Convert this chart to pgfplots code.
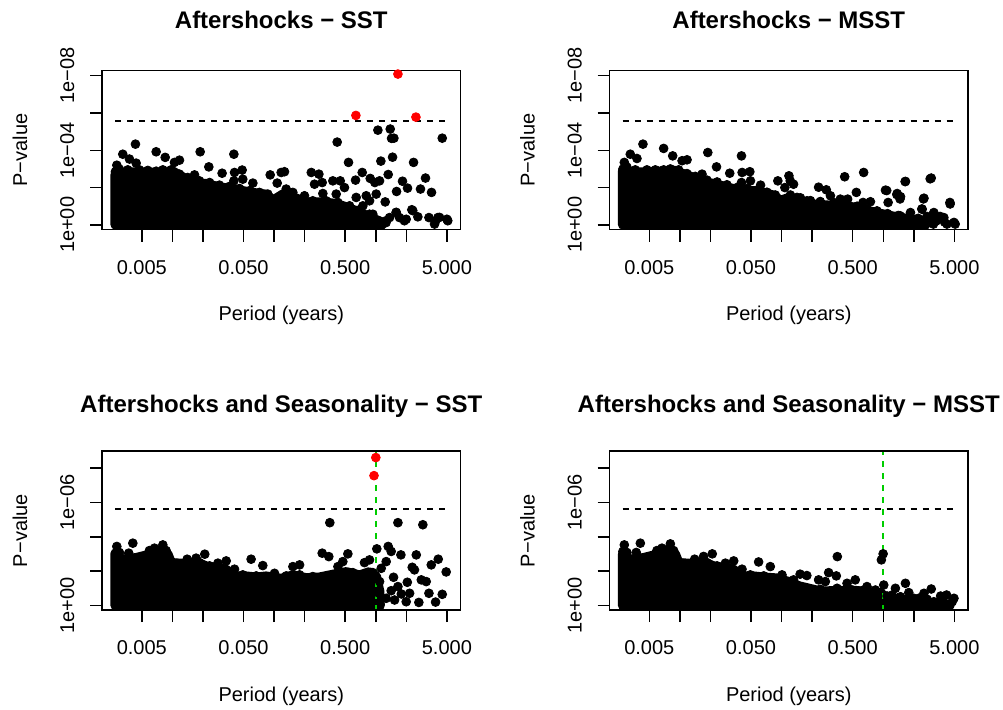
\documentclass[border=0pt]{standalone}
\usepackage{fontspec}
\setmainfont{Liberation Sans}
\usepackage{pgfplots}
\pgfplotsset{compat=1.18}
\definecolor{rgreen}{RGB}{0,205,0}

\pgfplotsset{
  rpanel/.style={
    scale only axis, width=179.3pt, height=79.4pt,
    xmin=0.00203, xmax=6.82,
    axis on top, clip=true,
    axis line style={line width=0.75pt},
    every tick/.style={black, line width=0.75pt},
    tick align=outside, major tick length=6pt,
    xtick pos=left, ytick pos=left, xminorticks=false, yminorticks=false,
    xtick={0.005,0.01,0.02,0.05,0.1,0.2,0.5,1,2,5},
    xticklabels={0.005,,,0.050,,,0.500,,,5.000},
    ytick={0,2,4,6,8},
    tick label style={font=\fontsize{10}{12}\selectfont},
    xticklabel style={anchor=base, yshift=-16.25pt},
    yticklabel style={xshift=-8pt, rotate=90, anchor=base},
    xlabel={Period (years)}, ylabel={P−value},
    label style={font=\fontsize{10}{12}\selectfont},
    xlabel style={at={(axis description cs:0.5,-0.576)}, anchor=base},
    ylabel style={at={(axis description cs:-0.2091,0.5)}, anchor=base},
    title style={at={(axis description cs:0.5,1)}, anchor=base,
      font=\bfseries\fontsize{12}{14.4}\selectfont},
  },
  toprow/.style={title style={yshift=15pt}},
  botrow/.style={title style={yshift=13.5pt}},
  dots/.style={only marks, mark=*, mark size=2.2pt, black, mark options={line width=0.4pt}},
  reddots/.style={only marks, mark=*, mark size=2.2pt, red, mark options={line width=0.4pt}},
  core/.style={fill=black, draw=black, line width=4.8pt, line join=round, line cap=round},
  thr/.style={black, line width=0.75pt, dash pattern=on 3pt off 3pt},
  yr/.style={rgreen, line width=1pt, dash pattern=on 3pt off 3pt},
}

\begin{document}
\begin{tikzpicture}
\path[use as bounding box] (0,0) rectangle (501.5pt,354.5pt);

% ---- top left: Aftershocks - SST
\begin{semilogxaxis}[rpanel, toprow, at={(51pt,239.75pt)}, anchor=south west,
  ymin=-0.25, ymax=8.27, yticklabels={1e+00,,1e−04,,1e−08},
  title={Aftershocks − SST}]
\addplot[core] coordinates {
  (0.00274,0) (0.00274,2.70) (0.00351,2.83) (0.00512,2.83) (0.00867,2.77)
  (0.00972,2.92) (0.01265,2.56) (0.01472,2.29) (0.0215,2.20) (0.0290,2.02)
  (0.0393,1.93) (0.0573,1.75) (0.0836,1.63) (0.0971,1.31) (0.117,1.58)
  (0.1315,1.67) (0.153,1.49) (0.2066,1.22) (0.301,1.22) (0.408,1.13)
  (0.512,0.95) (0.692,0.68) (0.867,0.41) (1.088,0.20) (1.15,0)} --cycle;
% points along the top of the dense band
\addplot[dots] coordinates {
  (0.00301,2.99) (0.00364,2.95) (0.00474,2.95) (0.00573,2.92) (0.00692,2.88)
  (0.00805,2.95) (0.00971,2.95) (0.01173,2.72) (0.01416,2.54) (0.01845,2.36)
  (0.0232,2.27) (0.0290,2.13) (0.0364,2.06) (0.0457,1.95) (0.0573,1.83)
  (0.0718,1.74) (0.0867,1.65) (0.122,1.65) (0.153,1.52) (0.192,1.38)
  (0.240,1.29) (0.325,1.29) (0.424,1.20) (0.552,1.02) (0.692,0.81) (0.867,0.57)};
\addplot[dots] coordinates {
  (0.00433,4.33) (0.00325,3.79) (0.00284,3.20) (0.00275,2.85) (0.00378,3.53)
  (0.00440,3.31) (0.00692,3.92) (0.00849,3.62) (0.01047,3.35) (0.01173,3.47)
  (0.01875,3.92) (0.0228,3.11) (0.0165,2.68) (0.0308,2.77) (0.0402,3.79)
  (0.0408,2.81) (0.0485,2.94) (0.0402,2.36) (0.0492,2.45) (0.0618,2.24)
  (0.0915,2.68) (0.1072,2.24) (0.1173,2.81)
  (0.1265,2.85) (0.232,2.81) (0.2756,2.72) (0.2496,2.18) (0.297,2.27)
  (0.378,2.36) (0.4466,2.36) (0.492,2.00) (0.1528,1.74) (0.1314,1.92)
  (0.3015,1.68) (0.199,1.56) (0.408,1.65) (0.641,1.47) (0.805,1.56)
  (0.868,1.29) (0.746,1.02) (0.573,0.84) (0.457,1.02) (0.935,0.57)
  (0.691,0.48) (1.365,0.39) (1.71,0.39)
  (1.048,5.08) (1.386,5.14) (1.428,4.64) (1.506,4.65) (4.50,4.65)
  (0.417,4.44) (1.461,3.63) (1.121,3.42) (0.539,3.35) (2.35,3.35)
  (0.735,2.81) (1.324,2.70) (0.881,2.49) (0.632,2.40) (1.088,2.36)
  (0.979,2.27) (3.08,2.51) (1.83,2.34) (2.05,1.97) (1.60,1.79)
  (2.75,1.92) (3.53,1.74) (1.009,1.65) (1.237,1.23) (2.26,0.81)
  (1.587,0.66) (2.59,0.43) (3.33,0.39) (4.08,0.39) (5.00,0.30)
  (3.84,0.16) (1.246,0.21) (1.99,0.30) (1.585,0.67) (1.91,0.22)
  (2.31,0.76) (3.78,0.04) (5.10,0.22) (1.26,0.12) (4.23,0.40)};
\addplot[thr] coordinates {(0.00274,5.56) (5.05,5.56)};
\addplot[reddots] coordinates {(1.65,8.09) (0.637,5.87) (2.48,5.78)};
\end{semilogxaxis}

% ---- top right: Aftershocks - MSST
\begin{semilogxaxis}[rpanel, toprow, at={(304.75pt,239.75pt)}, anchor=south west,
  ymin=-0.25, ymax=8.27, yticklabels={1e+00,,1e−04,,1e−08},
  title={Aftershocks − MSST}]
\addplot[core] coordinates {
  (0.00274,0) (0.00274,2.90) (0.00351,2.83) (0.00512,2.83) (0.00867,2.92)
  (0.01265,2.60) (0.01472,2.38) (0.0215,2.20) (0.0290,2.02) (0.0393,1.84)
  (0.0573,1.81) (0.0836,1.58) (0.0971,1.30) (0.117,1.45) (0.1775,1.13)
  (0.302,1.04) (0.512,0.95) (0.805,0.68) (1.368,0.41) (2.32,0.23) (2.6,0)} --cycle;
\addplot[dots] coordinates {
  (0.00301,3.10) (0.00364,2.95) (0.00474,2.95) (0.00573,2.95) (0.00692,2.95)
  (0.00805,3.00) (0.00971,2.95) (0.01173,2.75) (0.01416,2.60) (0.01845,2.40)
  (0.0232,2.30) (0.0290,2.15) (0.0364,2.00) (0.0457,1.95) (0.0573,1.85)
  (0.0718,1.75) (0.0867,1.60) (0.122,1.60) (0.153,1.45) (0.192,1.30)
  (0.240,1.25) (0.325,1.20) (0.424,1.15) (0.552,1.00) (0.692,0.85)
  (0.867,0.75) (1.10,0.60) (1.40,0.50) (1.80,0.40) (2.20,0.35)
  (2.80,0.30) (3.30,0.20) (4.00,0.15)};
\addplot[dots] coordinates {
  (0.00433,4.33) (0.00325,3.79) (0.00378,3.56) (0.00284,3.35) (0.00275,2.99)
  (0.00692,4.10) (0.00849,3.70) (0.0105,3.44) (0.01175,3.49) (0.0188,3.88)
  (0.0229,3.11) (0.0165,2.72) (0.0309,2.77) (0.0403,3.70) (0.0409,2.81)
  (0.0487,2.85) (0.0403,2.27) (0.0494,2.36) (0.0621,2.13) (0.0918,2.36)
  (0.1076,2.00) (0.118,2.63)
  (0.417,2.58) (0.641,2.81) (0.231,2.02) (0.275,1.88) (0.302,1.56)
  (0.378,1.38) (0.446,1.38) (0.543,1.74) (1.050,1.86) (1.652,2.33)
  (2.96,2.51) (1.368,1.68) (1.476,1.51) (2.51,1.43) (4.52,1.20)
  (0.747,1.24) (0.632,1.20) (1.115,1.20) (2.41,0.84) (1.85,0.66)
  (3.14,0.66) (3.94,0.39) (4.95,0.13) (1.53,0.39) (0.1216,2.36)
  (0.131,2.18) (0.1416,1.47) (0.1775,1.29)
  (1.46,0.49) (1.835,0.40) (2.68,0.45) (3.11,0.04) (4.22,0.04)
  (5.09,0.04) (3.11,0.58) (3.62,0.45) (1.58,0.04) (1.98,0.04)
  (1.21,0.04) (2.39,0.85) (2.48,1.39) (1.08,1.84) (1.36,1.62)
  (1.46,1.39) (1.64,2.32) (2.89,2.47) (4.54,1.12)};
\addplot[thr] coordinates {(0.00274,5.56) (5.05,5.56)};
\end{semilogxaxis}

% ---- bottom left: Aftershocks and Seasonality - SST
\begin{semilogxaxis}[rpanel, botrow, at={(51pt,49.5pt)}, anchor=south west,
  ymin=-0.25, ymax=8.97, yticklabels={1e+00,,,1e−06,},
  title={Aftershocks and Seasonality − SST}]
\addplot[core] coordinates {
  (0.00274,0) (0.00274,3.00) (0.00325,2.68) (0.00440,2.78) (0.00594,2.97)
  (0.00692,3.07) (0.00805,3.32) (0.00902,2.97) (0.00972,2.49) (0.01364,2.43)
  (0.0171,2.55) (0.0215,2.29) (0.0269,2.20) (0.0338,2.10) (0.0393,1.71)
  (0.0531,1.71) (0.0667,1.65) (0.0836,1.71) (0.117,1.57) (0.153,1.77)
  (0.2066,1.61) (0.280,1.65) (0.378,1.81) (0.512,1.96) (0.692,1.77)
  (0.867,1.96) (1.009,1.71) (1.088,0.84) (1.10,0)} --cycle;
\addplot[dots] coordinates {
  (0.00301,3.09) (0.00378,2.83) (0.00474,2.76) (0.00594,2.99) (0.00692,3.09)
  (0.00805,3.34) (0.01089,2.45) (0.01472,2.50) (0.01845,2.50) (0.0232,2.31)
  (0.0290,2.21) (0.0393,1.79) (0.0492,1.79) (0.0667,1.73) (0.0902,1.67)
  (0.1315,1.73) (0.178,1.79) (0.240,1.69) (0.325,1.73) (0.440,1.88)
  (0.594,1.92) (0.746,1.79) (0.935,1.92)};
\addplot[dots] coordinates {
  (0.00408,3.63) (0.00284,3.44) (0.00275,3.05) (0.00372,3.05) (0.00594,3.20)
  (0.00666,3.34) (0.00805,3.53) (0.00867,3.20) (0.0171,2.76) (0.0208,2.99)
  (0.0280,2.47) (0.0338,2.60) (0.0408,2.12) (0.0594,2.70) (0.0774,2.33)
  (0.1009,1.88) (0.01396,2.70)
  (0.353,4.82) (1.65,4.82) (2.90,4.70) (1.023,3.30) (1.324,3.44)
  (1.416,3.15) (1.765,2.95) (2.50,2.95) (4.11,2.70) (3.51,2.37)
  (4.92,1.96) (2.28,2.23) (2.40,2.08) (1.494,1.65) (2.80,1.50)
  (3.13,1.40) (2.04,1.36) (1.65,1.11) (1.089,1.40) (1.265,2.56)
  (1.13,2.17) (0.297,3.05) (0.345,2.85) (0.531,3.01) (0.474,2.56)
  (0.867,2.66) (0.774,2.50) (0.153,2.27) (0.178,2.37) (0.424,2.27)
  (3.33,0.72) (4.50,0.66) (3.87,0.21) (2.65,0.19) (1.99,0.23)
  (1.53,0.33) (1.265,0.43) (0.902,0.72) (1.048,0.76) (1.78,0.68)
  (2.15,0.72) (1.416,0.87)};
\addplot[thr] coordinates {(0.00274,5.61) (5.05,5.61)};
\addplot[yr] coordinates {(1,-1) (1,10)};
\addplot[reddots] coordinates {(1.0,8.60) (0.96,7.55)};
\end{semilogxaxis}

% ---- bottom right: Aftershocks and Seasonality - MSST
\begin{semilogxaxis}[rpanel, botrow, at={(304.75pt,49.5pt)}, anchor=south west,
  ymin=-0.25, ymax=8.97, yticklabels={1e+00,,,1e−06,},
  title={Aftershocks and Seasonality − MSST}]
\addplot[core] coordinates {
  (0.00274,0) (0.00274,3.00) (0.00325,2.68) (0.00440,2.78) (0.00594,2.97)
  (0.00692,3.07) (0.00805,3.32) (0.00902,2.97) (0.00972,2.49) (0.01364,2.43)
  (0.0171,2.55) (0.0215,2.29) (0.0269,2.20) (0.0338,2.10) (0.0393,1.71)
  (0.0531,1.71) (0.0667,1.65) (0.0836,1.61) (0.117,1.40) (0.150,1.13)
  (0.1775,1.03) (0.240,0.84) (0.512,0.88) (0.937,0.74) (1.088,0.45)
  (1.589,0.35) (2.70,0.16) (4.25,0.05) (4.5,0)} --cycle;
\addplot[dots] coordinates {
  (0.00301,3.09) (0.00378,2.83) (0.00474,2.76) (0.00594,2.99) (0.00692,3.09)
  (0.00805,3.34) (0.01089,2.45) (0.01472,2.50) (0.01845,2.50) (0.0232,2.31)
  (0.0290,2.21) (0.0393,1.79) (0.0492,1.79) (0.0667,1.73) (0.0902,1.60)
  (0.1216,1.11) (0.1775,1.01) (0.240,0.95) (0.351,1.01) (0.474,0.95)
  (0.641,0.91) (0.805,0.82) (1.09,0.56) (1.475,0.52) (1.995,0.43)
  (2.70,0.37) (3.66,0.29) (4.76,0.23)};
\addplot[dots] coordinates {
  (0.00408,3.63) (0.00284,3.53) (0.00275,3.15) (0.00372,3.09) (0.00594,3.20)
  (0.00666,3.34) (0.00805,3.59) (0.00867,3.20) (0.0171,2.86) (0.0208,3.01)
  (0.0280,2.47) (0.0338,2.60) (0.0408,2.12) (0.0594,2.54) (0.0774,2.27)
  (0.1009,1.79) (0.01396,2.70)
  (0.353,2.85) (0.996,3.01) (0.957,2.66) (0.152,1.83) (0.177,1.75)
  (0.290,1.92) (0.345,1.73) (0.231,1.50) (0.530,1.50) (0.269,1.40)
  (0.440,1.30) (1.65,1.30) (2.96,0.97) (1.315,1.01) (1.78,0.76)
  (1.01,1.20) (2.51,0.72) (4.19,0.62) (4.95,0.43) (3.66,0.56)
  (3.14,0.23) (3.94,0.17) (2.23,0.43) (1.476,0.43) (1.222,0.62)
  (1.995,0.23) (0.836,0.91) (0.691,1.11) (0.131,1.50)};
\addplot[thr] coordinates {(0.00274,5.61) (5.05,5.61)};
\addplot[yr] coordinates {(1,-1) (1,10)};
\end{semilogxaxis}
\end{tikzpicture}
\end{document}
